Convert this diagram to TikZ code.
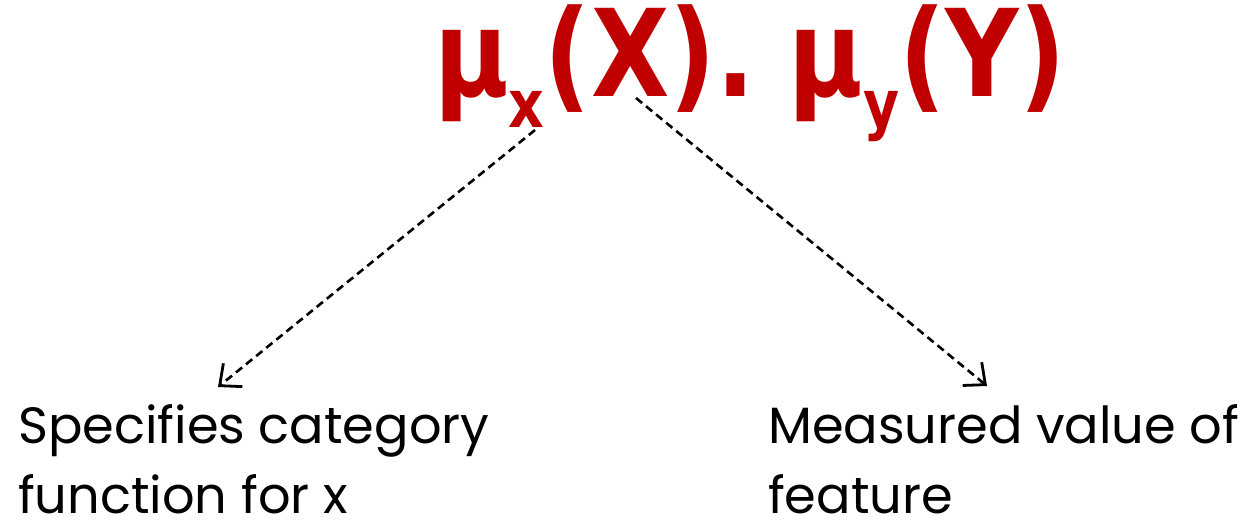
\documentclass[tikz,border=0pt]{standalone}
\usepackage{fontspec}
\setmainfont{Poppins}
\newfontfamily\formfont{DejaVu Sans}
\usetikzlibrary{arrows.meta}
\definecolor{formred}{HTML}{C00000}
\newcommand{\subsc}[1]{\raisebox{-31pt}{\fontsize{66}{66}\selectfont #1}}
\tikzset{
  conn/.style={draw=black, line width=2.6pt, dash pattern=on 8pt off 5pt, -{Straight Barb[length=17pt,width=30pt,line width=2.8pt]}},
  txtlabel/.style={anchor=base west, inner sep=0pt, font=\fontsize{51}{63}\selectfont},
  form/.style={anchor=base west, inner sep=0pt, text=formred, font=\formfont\bfseries\fontsize{121}{121}\selectfont}
}
\begin{document}
\begin{tikzpicture}[x=1pt,y=-1pt]
\useasboundingbox (0,0) rectangle (1252,522);
\node[form] (formx) at (434,96) {\scalebox{0.84}[1]{µ\subsc{x}(X).}};
\node[form] (formy) at (788,96) {\scalebox{0.84}[1]{µ\subsc{y}(Y)}};
\node[txtlabel] (spec) at (18,443) {Specifies category};
\node[txtlabel] (spec2) at (18,513) {function for x};
\node[txtlabel] (meas) at (768,443) {Measured value of};
\node[txtlabel] (meas2) at (768,513) {feature};
\coordinate (s1) at (535,130);
\coordinate (s2) at (636,98);
\coordinate (e1) at (218,387);
\coordinate (e2) at (987,386);
\draw[conn] (s1) -- (e1);
\draw[conn] (s2) -- (e2);
\end{tikzpicture}
\end{document}
